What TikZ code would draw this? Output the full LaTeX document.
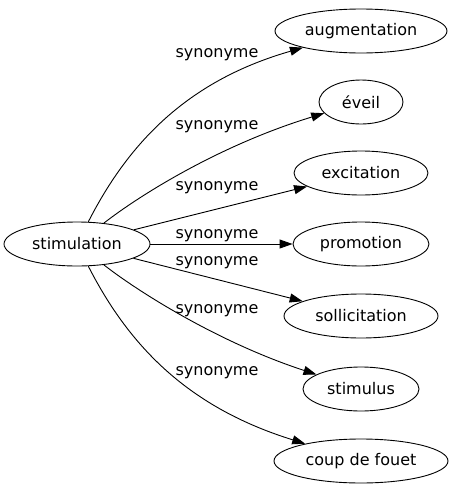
\documentclass[tikz,border=0pt]{standalone}
\usepackage{fontspec}
\setmainfont{DejaVu Sans}
\usetikzlibrary{arrows.meta,shapes.geometric}
\tikzset{word/.style=
	{draw, ellipse, inner sep=0pt, minimum height=44pt, line width=0.9pt,
		font=\fontsize{16}{19}\selectfont},
	syn arrow/.style={-{Triangle[length=13pt,width=9pt]}, line width=0.9pt},
	syn label/.style={inner sep=0pt, font=\fontsize{16}{19}\selectfont},
}

\begin{document}
\begin{tikzpicture}[x=1pt,y=-1pt,line join=round]
	\useasboundingbox (0,0) rectangle (450,491);
	
	\node[word, minimum width=146pt] (stim) at (77,244) {stimulation};
	\foreach \name/\txt/\y/\w in {aug/augmentation/31/172, eveil/éveil/102/84,
		excit/excitation/173/134, promo/promotion/244/136, sollic/sollicitation/316/154,
		stimu/stimulus/389/116, coup/coup de fouet/461/174}{
		\node[word, minimum width=\w pt] (\name) at (361,\y) {\txt};}
	
	\draw[syn arrow] (stim) .. controls (130,140) and (190,80) .. (aug);
	\draw[syn arrow] (stim) .. controls (140,195) and (220,145) .. (eveil);
	\foreach \name in {excit, promo, sollic}
		\draw[syn arrow] (stim) -- (\name);
	\draw[syn arrow] (stim) .. controls (140,293) and (220,343) .. (stimu);
	\draw[syn arrow] (stim) .. controls (130,348) and (190,408) .. (coup);
	
	\foreach \y [count=\i] in {55,127,188,236,263,311,373}
		\node[syn label] (lab\i) at (217,\y) {synonyme};
\end{tikzpicture}
\end{document}
